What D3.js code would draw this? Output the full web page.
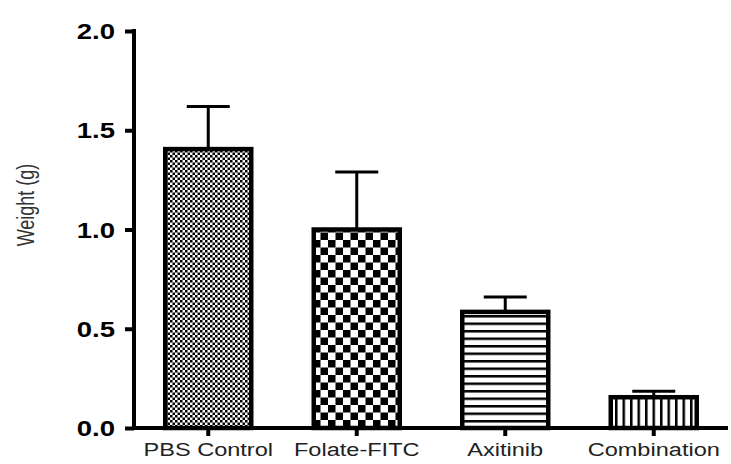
<!DOCTYPE html>
<html>
<head>
<meta charset="utf-8">
<script src="https://cdn.jsdelivr.net/npm/d3@7"></script>
<style>
  body { margin: 0; background: #fff; }
  svg { display: block; font-family: "Liberation Sans", Arial, sans-serif; }
</style>
</head>
<body>
<svg id="chart"></svg>
<script>
// data
let groups = ['PBS Control', 'Folate-FITC', 'Axitinib', 'Combination'];
let means = [1.405, 1.0, 0.585, 0.155];
let errors = [0.215, 0.29, 0.075, 0.03];
let patterns = ['fineCheck', 'bigCheck', 'hLines', 'vLines'];
let yTicks = [0, 0.5, 1.0, 1.5, 2.0];

let config = { svg: {}, plot: {} };
config.svg.width = 731;
config.svg.height = 464;
config.plot.left = 134;
config.plot.right = 728;
config.plot.top = 31;
config.plot.bottom = 428;
config.stretch = 1.28; // the source figure is stretched sideways

let svg = d3.select('svg#chart')
  .attr('width', config.svg.width)
  .attr('height', config.svg.height);

// fill patterns
let defs = svg.append('defs');

let p1 = defs.append('pattern').attr('id', 'fineCheck')
  .attr('patternUnits', 'userSpaceOnUse').attr('width', 5).attr('height', 5);
p1.append('rect').attr('width', 5).attr('height', 5).attr('fill', '#fff');
p1.append('rect').attr('width', 2.5).attr('height', 2.5).attr('fill', '#000');
p1.append('rect').attr('x', 2.5).attr('y', 2.5).attr('width', 2.5).attr('height', 2.5).attr('fill', '#000');

let p2 = defs.append('pattern').attr('id', 'bigCheck')
  .attr('patternUnits', 'userSpaceOnUse').attr('width', 15).attr('height', 15)
  .attr('x', 313).attr('y', 0);
p2.append('rect').attr('width', 15).attr('height', 15).attr('fill', '#fff');
p2.append('rect').attr('width', 7.5).attr('height', 7.5).attr('fill', '#000');
p2.append('rect').attr('x', 7.5).attr('y', 7.5).attr('width', 7.5).attr('height', 7.5).attr('fill', '#000');

let p3 = defs.append('pattern').attr('id', 'hLines')
  .attr('patternUnits', 'userSpaceOnUse').attr('width', 8).attr('height', 7.5);
p3.append('rect').attr('width', 8).attr('height', 7.5).attr('fill', '#fff');
p3.append('rect').attr('y', 0).attr('width', 8).attr('height', 2.5).attr('fill', '#000');

let p4 = defs.append('pattern').attr('id', 'vLines')
  .attr('patternUnits', 'userSpaceOnUse').attr('width', 7.5).attr('height', 8);
p4.append('rect').attr('width', 7.5).attr('height', 8).attr('fill', '#fff');
p4.append('rect').attr('x', 0).attr('width', 2.5).attr('height', 8).attr('fill', '#000');

// scales
let scale = {};
scale.x = d3.scaleBand()
  .domain(groups)
  .range([config.plot.left, config.plot.right])
  .paddingInner(0.394)
  .paddingOuter(0.197);

scale.y = d3.scaleLinear()
  .domain([0, 2])
  .range([config.plot.bottom, config.plot.top]);

// bars
let data = groups.map((g, i) => ({ group: g, mean: means[i], err: errors[i], pat: patterns[i] }));

let bars = svg.append('g').attr('id', 'bars');

// error bars (upper only)
let capW = 43;
bars.selectAll('line.err')
  .data(data)
  .enter()
  .append('line')
  .attr('class', 'err')
  .attr('x1', d => scale.x(d.group) + scale.x.bandwidth() / 2)
  .attr('x2', d => scale.x(d.group) + scale.x.bandwidth() / 2)
  .attr('y1', d => scale.y(d.mean))
  .attr('y2', d => scale.y(d.mean + d.err))
  .attr('stroke', '#000')
  .attr('stroke-width', 3);

bars.selectAll('line.cap')
  .data(data)
  .enter()
  .append('line')
  .attr('class', 'cap')
  .attr('x1', d => scale.x(d.group) + scale.x.bandwidth() / 2 - capW / 2)
  .attr('x2', d => scale.x(d.group) + scale.x.bandwidth() / 2 + capW / 2)
  .attr('y1', d => scale.y(d.mean + d.err))
  .attr('y2', d => scale.y(d.mean + d.err))
  .attr('stroke', '#000')
  .attr('stroke-width', 3);

bars.selectAll('rect.bar')
  .data(data)
  .enter()
  .append('rect')
  .attr('class', 'bar')
  .attr('x', d => scale.x(d.group) + 2)
  .attr('y', d => scale.y(d.mean))
  .attr('width', scale.x.bandwidth() - 4)
  .attr('height', d => scale.y(0) - scale.y(d.mean))
  .attr('fill', d => 'url(#' + d.pat + ')')
  .attr('stroke', '#000')
  .attr('stroke-width', 4.5);

// axes
let axis = {};
axis.y = d3.axisLeft(scale.y)
  .tickValues(yTicks)
  .tickFormat(d3.format('.1f'))
  .tickSize(9)
  .tickSizeOuter(0)
  .tickPadding(10);

axis.x = d3.axisBottom(scale.x)
  .tickSize(8)
  .tickSizeOuter(0)
  .tickPadding(7);

let gy = svg.append('g')
  .attr('id', 'y-axis')
  .attr('transform', 'translate(' + config.plot.left + ',0)')
  .call(axis.y);
gy.select('.domain')
  .attr('stroke-width', 4)
  .attr('d', 'M0,' + (config.plot.top - 2) + 'V' + (config.plot.bottom + 2));
gy.selectAll('.tick line').attr('stroke-width', 4);
gy.selectAll('.tick text')
  .attr('font-size', 21.5)
  .attr('font-weight', 'bold')
  .attr('font-family', '"Liberation Sans", Arial, sans-serif')
  .attr('fill', '#000')
  .attr('x', null)
  .attr('dy', '0.36em')
  .attr('transform', 'translate(-19,0) scale(' + config.stretch + ',1)');

let gx = svg.append('g')
  .attr('id', 'x-axis')
  .attr('transform', 'translate(0,' + config.plot.bottom + ')')
  .call(axis.x);
gx.select('.domain')
  .attr('stroke-width', 4)
  .attr('d', 'M' + (config.plot.left - 2) + ',0H' + config.plot.right);
gx.selectAll('.tick line').attr('stroke-width', 4);
gx.selectAll('.tick text')
  .attr('font-size', 19)
  .attr('font-family', '"Liberation Sans", Arial, sans-serif')
  .attr('fill', '#222')
  .attr('transform', 'scale(1.24,1)');

// y axis title
svg.append('text')
  .attr('transform', 'translate(34,205) rotate(-90) scale(1,' + config.stretch + ')')
  .attr('text-anchor', 'middle')
  .attr('font-size', 18)
  .attr('fill', '#333')
  .text('Weight (g)');
</script>
</body>
</html>
